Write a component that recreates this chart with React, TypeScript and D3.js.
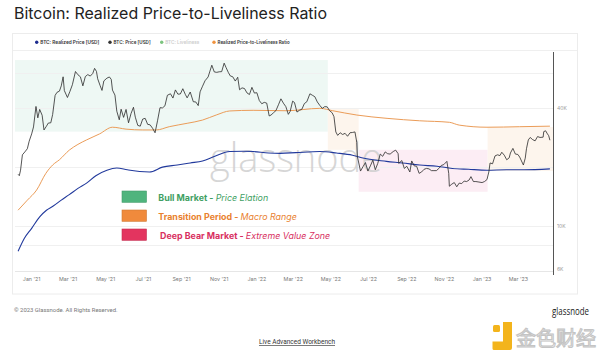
import React, { useRef, useEffect } from "react";
import * as d3 from "d3";

// BTC: Price [USD] (roughly every few days)
const btcPrice: [string, number][] = [
  ["2020-12-10", 18300], ["2020-12-12", 18000], ["2020-12-14", 19200], ["2020-12-17", 23000], ["2020-12-21", 23800],
  ["2020-12-25", 24700], ["2020-12-28", 27000], ["2021-01-01", 29400], ["2021-01-04", 31900], ["2021-01-08", 40600],
  ["2021-01-11", 35500], ["2021-01-14", 39200], ["2021-01-18", 36600], ["2021-01-21", 30800], ["2021-01-25", 32200],
  ["2021-01-28", 33400], ["2021-02-01", 33500], ["2021-02-04", 36900], ["2021-02-08", 46200], ["2021-02-11", 47900],
  ["2021-02-15", 48600], ["2021-02-18", 51700], ["2021-02-21", 57500], ["2021-02-23", 48900], ["2021-02-28", 45100],
  ["2021-03-04", 48400], ["2021-03-08", 52400], ["2021-03-13", 61200], ["2021-03-17", 58900], ["2021-03-21", 57500],
  ["2021-03-25", 51700], ["2021-03-29", 57700], ["2021-04-02", 59000], ["2021-04-06", 58000], ["2021-04-10", 59800],
  ["2021-04-13", 63500], ["2021-04-16", 61300], ["2021-04-18", 56200], ["2021-04-22", 51800], ["2021-04-25", 49000],
  ["2021-04-28", 54800], ["2021-05-03", 56600], ["2021-05-07", 57400], ["2021-05-10", 55800], ["2021-05-12", 49200],
  ["2021-05-16", 46400], ["2021-05-19", 38400], ["2021-05-23", 34700], ["2021-05-26", 39300], ["2021-05-30", 35700],
  ["2021-06-03", 39200], ["2021-06-07", 33500], ["2021-06-11", 37300], ["2021-06-15", 40200], ["2021-06-18", 35800],
  ["2021-06-22", 32500], ["2021-06-26", 32200], ["2021-06-30", 35000], ["2021-07-04", 35300], ["2021-07-08", 32900],
  ["2021-07-12", 32700], ["2021-07-16", 31400], ["2021-07-20", 29800], ["2021-07-24", 34300], ["2021-07-28", 40000],
  ["2021-08-01", 39900], ["2021-08-05", 40900], ["2021-08-09", 46300], ["2021-08-14", 47100], ["2021-08-18", 44800],
  ["2021-08-22", 49300], ["2021-08-26", 46900], ["2021-08-30", 47000], ["2021-09-03", 50000], ["2021-09-07", 46800],
  ["2021-09-10", 44900], ["2021-09-15", 48100], ["2021-09-20", 42900], ["2021-09-24", 42800], ["2021-09-28", 41000],
  ["2021-10-01", 48200], ["2021-10-05", 51500], ["2021-10-09", 54900], ["2021-10-14", 57400], ["2021-10-17", 61500],
  ["2021-10-20", 65900], ["2021-10-24", 60900], ["2021-10-28", 60600], ["2021-11-01", 61000], ["2021-11-05", 61100],
  ["2021-11-09", 67500], ["2021-11-12", 64200], ["2021-11-16", 60300], ["2021-11-19", 58100], ["2021-11-23", 57500],
  ["2021-11-27", 54700], ["2021-12-01", 57200], ["2021-12-04", 49400], ["2021-12-08", 50500], ["2021-12-12", 50100],
  ["2021-12-16", 47600], ["2021-12-20", 46700], ["2021-12-24", 50800], ["2021-12-28", 47500], ["2022-01-01", 47700],
  ["2022-01-05", 43500], ["2022-01-09", 41900], ["2022-01-13", 42600], ["2022-01-17", 42200], ["2022-01-21", 36300],
  ["2022-01-24", 36700], ["2022-01-28", 37700], ["2022-02-01", 38700], ["2022-02-05", 41400], ["2022-02-09", 44400],
  ["2022-02-13", 42200], ["2022-02-17", 40500], ["2022-02-21", 37000], ["2022-02-24", 38300], ["2022-02-28", 43200],
  ["2022-03-03", 42500], ["2022-03-07", 38000], ["2022-03-11", 38800], ["2022-03-15", 39300], ["2022-03-19", 42000],
  ["2022-03-23", 42900], ["2022-03-28", 47100], ["2022-04-01", 46300], ["2022-04-05", 45500], ["2022-04-09", 42800],
  ["2022-04-13", 41100], ["2022-04-17", 39700], ["2022-04-21", 40500], ["2022-04-25", 40400], ["2022-04-29", 38600],
  ["2022-05-03", 37700], ["2022-05-06", 36000], ["2022-05-09", 30100], ["2022-05-12", 28900], ["2022-05-16", 29800],
  ["2022-05-20", 29200], ["2022-05-24", 29600], ["2022-05-28", 28600], ["2022-06-01", 29800], ["2022-06-05", 29900],
  ["2022-06-09", 30100], ["2022-06-12", 26600], ["2022-06-13", 22500], ["2022-06-18", 19000], ["2022-06-22", 20000],
  ["2022-06-26", 21000], ["2022-06-30", 19000], ["2022-07-04", 20200], ["2022-07-08", 21600], ["2022-07-12", 19300],
  ["2022-07-16", 20800], ["2022-07-20", 23200], ["2022-07-24", 22600], ["2022-07-28", 23800], ["2022-08-01", 23300],
  ["2022-08-05", 23200], ["2022-08-10", 23900], ["2022-08-14", 24300], ["2022-08-18", 23300], ["2022-08-19", 20800],
  ["2022-08-24", 21500], ["2022-08-28", 19600], ["2022-09-01", 20100], ["2022-09-06", 18800], ["2022-09-09", 21400],
  ["2022-09-13", 20200], ["2022-09-17", 20100], ["2022-09-21", 18500], ["2022-09-25", 18800], ["2022-09-29", 19400],
  ["2022-10-03", 19600], ["2022-10-07", 19500], ["2022-10-11", 19100], ["2022-10-15", 19100], ["2022-10-19", 19100],
  ["2022-10-23", 19600], ["2022-10-27", 20300], ["2022-10-31", 20500], ["2022-11-05", 21300], ["2022-11-08", 18500],
  ["2022-11-09", 15900], ["2022-11-13", 16300], ["2022-11-17", 16600], ["2022-11-21", 15800], ["2022-11-25", 16500],
  ["2022-11-29", 16400], ["2022-12-03", 16900], ["2022-12-07", 16800], ["2022-12-11", 17100], ["2022-12-14", 17800],
  ["2022-12-18", 16800], ["2022-12-22", 16800], ["2022-12-27", 16700], ["2023-01-01", 16600], ["2023-01-05", 16800],
  ["2023-01-09", 17200], ["2023-01-12", 18800], ["2023-01-14", 20900], ["2023-01-18", 20700], ["2023-01-22", 22700],
  ["2023-01-26", 23000], ["2023-01-30", 22800], ["2023-02-02", 23700], ["2023-02-06", 22900], ["2023-02-10", 21700],
  ["2023-02-14", 22200], ["2023-02-16", 23500], ["2023-02-20", 24800], ["2023-02-24", 23200], ["2023-02-28", 23100],
  ["2023-03-03", 22400], ["2023-03-09", 20400], ["2023-03-12", 22100], ["2023-03-14", 24700], ["2023-03-17", 27400],
  ["2023-03-20", 28200], ["2023-03-24", 27500], ["2023-03-28", 27100], ["2023-04-01", 28500], ["2023-04-05", 28200],
  ["2023-04-10", 28300], ["2023-04-11", 30200], ["2023-04-14", 30500], ["2023-04-17", 29400], ["2023-04-19", 28800],
  ["2023-04-21", 27300],
];

// BTC: Realized Price [USD]
const realizedPrice: [string, number][] = [
  ["2020-12-10", 7400], ["2020-12-20", 8600], ["2021-01-01", 9700], ["2021-01-14", 11100], ["2021-01-25", 12000],
  ["2021-02-05", 12600], ["2021-02-18", 13500], ["2021-03-03", 14400], ["2021-03-17", 15500], ["2021-03-31", 16500],
  ["2021-04-15", 18000], ["2021-05-03", 19200], ["2021-05-19", 19700], ["2021-06-05", 19300], ["2021-06-25", 18900],
  ["2021-07-11", 18800], ["2021-08-01", 19900], ["2021-08-25", 20400], ["2021-09-15", 20900], ["2021-10-05", 21400],
  ["2021-10-25", 22600], ["2021-11-18", 23900], ["2021-12-10", 24000], ["2021-12-26", 23900], ["2022-01-20", 23500],
  ["2022-02-08", 23400], ["2022-03-05", 23600], ["2022-04-13", 23900], ["2022-05-10", 23500], ["2022-06-05", 22900],
  ["2022-06-20", 22200], ["2022-07-30", 21300], ["2022-08-25", 20900], ["2022-09-22", 20400], ["2022-10-20", 20100],
  ["2022-11-14", 19600], ["2022-12-10", 19400], ["2023-01-09", 19200], ["2023-02-10", 19300], ["2023-03-10", 19300],
  ["2023-04-21", 19500],
];

// Realized Price-to-Liveliness Ratio
const ratioLine: [string, number][] = [
  ["2020-12-10", 12000], ["2020-12-25", 13500], ["2021-01-09", 15200], ["2021-01-24", 18500], ["2021-02-04", 20400],
  ["2021-02-15", 21700], ["2021-03-03", 24300], ["2021-03-17", 26000], ["2021-03-31", 27400], ["2021-04-21", 29400],
  ["2021-05-12", 31800], ["2021-06-03", 31100], ["2021-06-30", 30800], ["2021-07-22", 30800], ["2021-08-12", 32000],
  ["2021-09-10", 33300], ["2021-10-05", 34600], ["2021-10-28", 36800], ["2021-11-18", 38500], ["2021-12-26", 38800],
  ["2022-02-18", 38600], ["2022-04-13", 39700], ["2022-05-04", 38600], ["2022-06-12", 36700], ["2022-07-31", 35300],
  ["2022-09-22", 34300], ["2022-11-09", 33700], ["2022-11-25", 32600], ["2023-01-09", 31800], ["2023-03-03", 32000],
  ["2023-04-21", 32200],
];

// shaded market regimes: [regime, start, end, low, high]
const regimeBands: [string, string, string, number, number][] = [
  ["bull", "2020-12-05", "2022-04-26", 30200, 70000],
  ["transition", "2022-04-26", "2022-06-15", 24400, 39900],
  ["bear", "2022-06-15", "2023-01-10", 14900, 24400],
  ["transition", "2023-01-10", "2023-04-26", 19000, 31900],
];

const xTickDates = [
  "2021-01-01", "2021-03-01", "2021-05-01", "2021-07-01", "2021-09-01", "2021-11-01", "2022-01-01",
  "2022-03-01", "2022-05-01", "2022-07-01", "2022-09-01", "2022-11-01", "2023-01-01", "2023-03-01",
];
const yGridValues = [8000, 10000, 20000, 40000, 60000];
const yLabelValues = [6000, 10000, 40000];

const legendNames = ["BTC: Realized Price [USD]", "BTC: Price [USD]", "BTC: Liveliness", "Realized Price-to-Liveliness Ratio"];
const regimeTitles = ["Bull Market", "Transition Period", "Deep Bear Market"];
const regimeSubtitles = ["Price Elation", "Macro Range", "Extreme Value Zone"];

const bandFill: Record<string, string> = { bull: "#eef8f4", transition: "#fdf5ed", bear: "#fcedf4" };
const regimeColor = ["#3f9f63", "#e9812f", "#d8305f"];
const regimeBox = ["#4fb47d", "#f08a3c", "#e3345f"];
const legendColor = ["#1d2c8f", "#333", "#7cc47f", "#f0923e"];
const legendText = ["#333", "#333", "#ccc", "#333"];

const font = "Inter, 'Open Sans', sans-serif";

const App = () => {
  const svgRef = useRef<SVGSVGElement>(null);

  useEffect(() => {
    const svg = d3.select(svgRef.current);
    svg.selectAll("*").remove();
    const parse = d3.timeParse("%Y-%m-%d");

    const plot = { left: 15, right: 553, top: 52, bottom: 271 };

    const x = d3.scaleTime()
      .domain([parse("2020-12-05")!, parse("2023-04-26")!])
      .range([plot.left, plot.right]);
    const y = d3.scaleLog().domain([6000, 80000]).range([269.2, 48.7]);

    svg.append("rect").attr("width", 600).attr("height", 353).attr("fill", "#fff");

    // title
    svg.append("text")
      .attr("x", 14).attr("y", 18.5)
      .attr("font-family", font).attr("font-size", 16).attr("fill", "#222")
      .attr("textLength", 313).attr("lengthAdjust", "spacingAndGlyphs")
      .text("Bitcoin: Realized Price-to-Liveliness Ratio");

    // panel
    svg.append("rect")
      .attr("x", 12.5).attr("y", 33.5).attr("width", 565).attr("height", 260.5)
      .attr("fill", "none").attr("stroke", "#ececec");
    svg.append("line")
      .attr("x1", 13).attr("x2", 577).attr("y1", 50.5).attr("y2", 50.5)
      .attr("stroke", "#efefef");

    // top legend
    const legendDotX = [36.7, 110, 161.7, 214];
    const legendWidth = [59, 37, 34, 72];
    const legend = svg.append("g");
    legendNames.forEach((name, i) => {
      legend.append("circle")
        .attr("cx", legendDotX[i]).attr("cy", 42.2).attr("r", 1.7)
        .attr("fill", legendColor[i]);
      legend.append("text")
        .attr("x", legendDotX[i] + 3.6).attr("y", 44)
        .attr("font-family", font).attr("font-size", 5.2).attr("font-weight", 600)
        .attr("fill", legendText[i])
        .attr("textLength", legendWidth[i]).attr("lengthAdjust", "spacingAndGlyphs")
        .text(name);
    });

    // regime bands
    svg.append("g").selectAll("rect")
      .data(regimeBands)
      .join("rect")
      .attr("x", (d) => x(parse(d[1])!))
      .attr("width", (d) => x(parse(d[2])!) - x(parse(d[1])!))
      .attr("y", (d) => y(d[4]))
      .attr("height", (d) => y(d[3]) - y(d[4]))
      .attr("fill", (d) => bandFill[d[0]]);

    // grid
    svg.append("g").selectAll("line")
      .data(yGridValues)
      .join("line")
      .attr("x1", plot.left).attr("x2", plot.right)
      .attr("y1", (d) => Math.round(y(d)) + 0.5).attr("y2", (d) => Math.round(y(d)) + 0.5)
      .attr("stroke", "#f0f0f0");
    svg.append("line")
      .attr("x1", plot.left).attr("x2", plot.right)
      .attr("y1", plot.bottom + 0.5).attr("y2", plot.bottom + 0.5)
      .attr("stroke", "#e6e6e6");

    // glassnode watermark
    svg.append("text")
      .attr("x", 296).attr("y", 172).attr("text-anchor", "middle")
      .attr("font-family", "'Open Sans', sans-serif").attr("font-size", 40).attr("font-weight", 300)
      .attr("fill", "#cfcfcf").attr("opacity", 0.85)
      .attr("textLength", 172).attr("lengthAdjust", "spacingAndGlyphs")
      .text("glassnode");

    const toPoints = (arr: [string, number][]) => arr.map(([d, v]) => ({ date: parse(d)!, value: v }));
    const line = d3.line<{ date: Date; value: number }>()
      .x((d) => x(d.date))
      .y((d) => y(d.value));
    const smooth = d3.line<{ date: Date; value: number }>()
      .x((d) => x(d.date))
      .y((d) => y(d.value))
      .curve(d3.curveMonotoneX);

    svg.append("path")
      .attr("d", smooth(toPoints(ratioLine)))
      .attr("fill", "none").attr("stroke", "#eb9c58").attr("stroke-width", 1);
    svg.append("path")
      .attr("d", smooth(toPoints(realizedPrice)))
      .attr("fill", "none").attr("stroke", "#21399c").attr("stroke-width", 1.1);
    svg.append("path")
      .attr("d", line(toPoints(btcPrice)))
      .attr("fill", "none").attr("stroke", "#2a2a2a").attr("stroke-width", 0.8)
      .attr("stroke-linejoin", "round");

    // right axis
    svg.append("line")
      .attr("x1", plot.right + 0.5).attr("x2", plot.right + 0.5)
      .attr("y1", plot.top).attr("y2", 275)
      .attr("stroke", "#555").attr("stroke-width", 1);
    svg.append("g").selectAll("text")
      .data(yLabelValues)
      .join("text")
      .attr("x", 557).attr("y", (d) => y(d) + 1.8)
      .attr("font-family", font).attr("font-size", 5).attr("fill", "#999")
      .text((d) => d3.format("~s")(d).replace("k", "K"));

    // x axis labels
    const fmt = d3.timeFormat("%b '%y");
    svg.append("g").selectAll("text")
      .data(xTickDates)
      .join("text")
      .attr("x", (d) => x(parse(d)!)).attr("y", 281)
      .attr("text-anchor", "middle")
      .attr("font-family", font).attr("font-size", 5.3).attr("fill", "#777")
      .text((d) => fmt(parse(d)!));

    // regime legend
    const boxY = [191, 210, 229];
    const textX = [158.3, 158.3, 160];
    regimeTitles.forEach((title, i) => {
      svg.append("rect")
        .attr("x", 122).attr("y", boxY[i]).attr("width", 24.5).attr("height", 11.3)
        .attr("fill", regimeBox[i]).attr("stroke", d3.color(regimeBox[i])!.darker(0.4).toString())
        .attr("stroke-width", 0.6);
      const t = svg.append("text")
        .attr("x", textX[i]).attr("y", boxY[i] + 9.5)
        .attr("font-family", font).attr("font-size", 8.9).attr("fill", regimeColor[i]);
      t.append("tspan").attr("font-weight", 700).text(`${title} - `);
      t.append("tspan").attr("font-style", "italic").text(regimeSubtitles[i]);
    });

    // footer
    svg.append("text")
      .attr("x", 14).attr("y", 312)
      .attr("font-family", "Roboto, sans-serif").attr("font-size", 5.9).attr("fill", "#777")
      .text("© 2023 Glassnode. All Rights Reserved.");
    svg.append("text")
      .attr("x", 589).attr("y", 315).attr("text-anchor", "end")
      .attr("font-family", "'Open Sans', sans-serif").attr("font-size", 10.5).attr("font-weight", 500)
      .attr("fill", "#1a1a1a")
      .attr("textLength", 37).attr("lengthAdjust", "spacingAndGlyphs")
      .text("glassnode");
    svg.append("text")
      .attr("x", 297).attr("y", 344).attr("text-anchor", "middle")
      .attr("font-family", "Roboto, sans-serif").attr("font-size", 6.5).attr("fill", "#333")
      .attr("text-decoration", "underline")
      .text("Live Advanced Workbench");

    // site watermark
    const wm = svg.append("g");
    wm.append("rect").attr("x", 493).attr("y", 325).attr("width", 7).attr("height", 7).attr("rx", 1.5).attr("fill", "#f3b41c");
    wm.append("path")
      .attr("d", "M503,322 h9 v26 a2,2 0 0 1 -2,2 h-16 a1.5,1.5 0 0 1 -1.5,-1.5 v-7 h10.5 z")
      .attr("fill", "#f3b41c");
    wm.append("text")
      .attr("x", 516).attr("y", 346)
      .attr("font-family", "'Noto Sans CJK SC', sans-serif").attr("font-size", 20)
      .attr("fill", "#fff").attr("stroke", "#c4c4c4").attr("stroke-width", 1.1)
      .attr("textLength", 80).attr("lengthAdjust", "spacingAndGlyphs")
      .text("金色财经");
  }, []);

  return (
    <div style={{ position: "absolute", left: 0, top: 0 }}>
      <svg ref={svgRef} width={600} height={353} style={{ display: "block" }}></svg>
    </div>
  );
};

export default App;
